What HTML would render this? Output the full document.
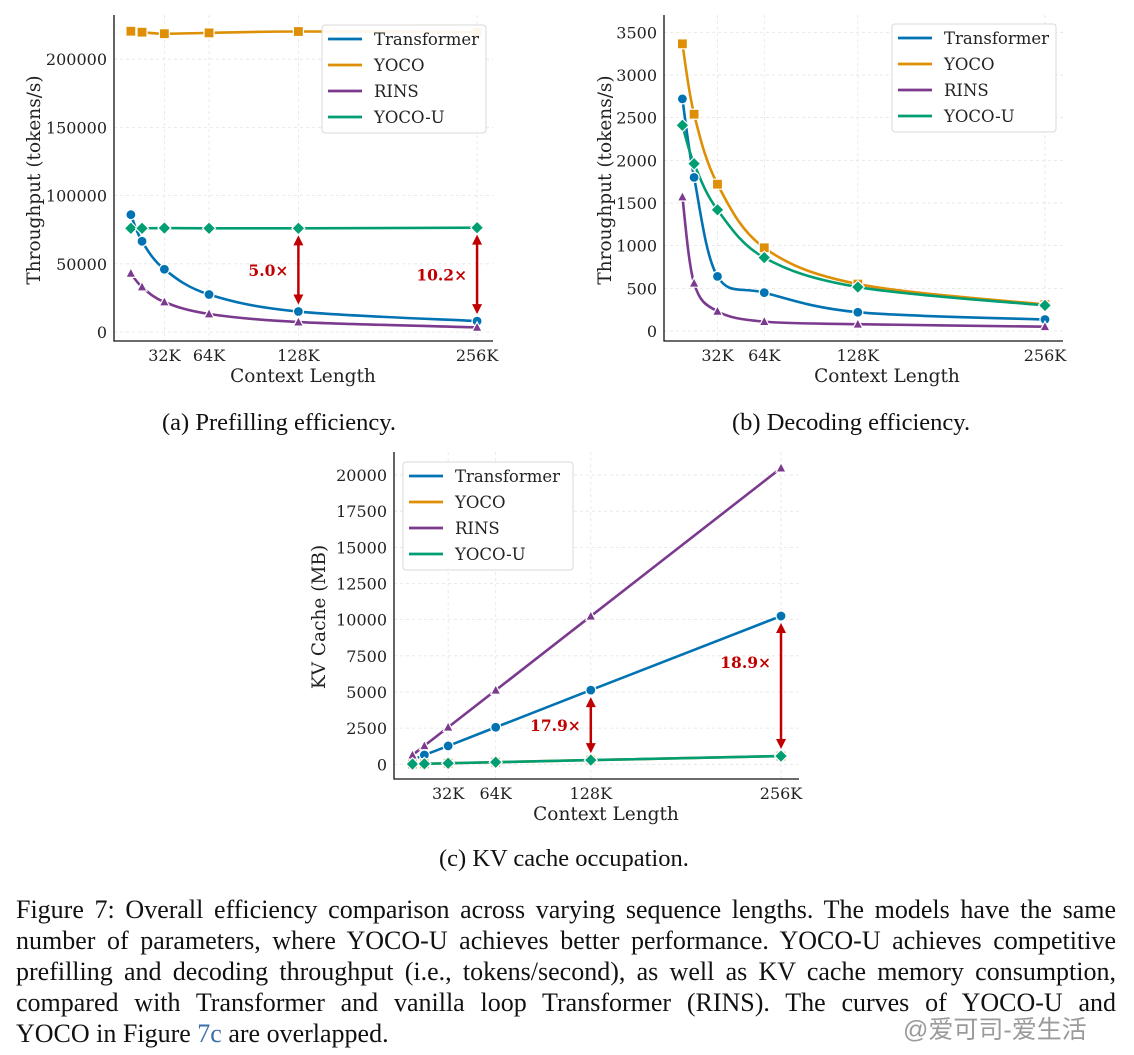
<!DOCTYPE html>
<html><head><meta charset="utf-8">
<style>
body{margin:0;background:#fff;width:1134px;height:1055px;overflow:hidden;position:relative;font-family:"Liberation Serif",serif;}
svg{position:absolute;left:0;top:0;}
.cap{position:absolute;font-family:"Liberation Serif",serif;font-size:24.5px;color:#111;white-space:nowrap;}
.fig{position:absolute;left:16px;top:894px;width:1100px;font-family:"Liberation Serif",serif;font-size:26px;line-height:31px;color:#111;}
.fig div{text-align:justify;text-align-last:justify;white-space:nowrap;}
.fig div.last{text-align-last:left;}
.wm{position:absolute;left:903px;top:1010px;font-family:"Liberation Sans","Noto Sans CJK SC",sans-serif;font-size:25px;color:#9a9a9a;}
</style></head><body>
<svg id="svg" width="1134" height="1055"></svg>
<div class="cap" style="left:162px;top:409px">(a) Prefilling efficiency.</div>
<div class="cap" style="left:732px;top:409px">(b) Decoding efficiency.</div>
<div class="cap" style="left:439px;top:845px">(c) KV cache occupation.</div>
<div class="fig">
<div>Figure 7: Overall efficiency comparison across varying sequence lengths. The models have the same</div>
<div>number of parameters, where YOCO-U achieves better performance. YOCO-U achieves competitive</div>
<div>prefilling and decoding throughput (i.e., tokens/second), as well as KV cache memory consumption,</div>
<div>compared with Transformer and vanilla loop Transformer (RINS). The curves of YOCO-U and</div>
<div class="last">YOCO in Figure <span style="color:#3a6ea8">7c</span> are overlapped.</div>
</div>
<div class="wm">@爱可司-爱生活</div>
<script>
const contexts = [8, 16, 32, 64, 128, 256];
const xTickVals = [32, 64, 128, 256];
const xTickLabels = ["32K", "64K", "128K", "256K"];
const seriesNames = ["Transformer", "YOCO", "RINS", "YOCO-U"];
// (a) prefilling
const preTransformer = [86000, 66500, 46000, 27500, 15000, 8000];
const preYOCO = [220500, 219800, 218700, 219300, 220300, 219800];
const preRINS = [43000, 33000, 22000, 13200, 7300, 3400];
const preYOCOU = [76000, 76000, 76200, 76000, 76000, 76500];
const preYTicks = [0, 50000, 100000, 150000, 200000];
const preRatios = ["5.0×", "10.2×"];
// (b) decoding
const decTransformer = [2720, 1800, 640, 450, 220, 135];
const decYOCO = [3365, 2540, 1720, 975, 550, 310];
const decRINS = [1570, 560, 230, 110, 80, 50];
const decYOCOU = [2410, 1960, 1420, 860, 515, 300];
const decYTicks = [0, 500, 1000, 1500, 2000, 2500, 3000, 3500];
// (c) kv cache
const kvTransformer = [320, 640, 1270, 2560, 5130, 10250];
const kvYOCO = [18, 36, 72, 144, 290, 570];
const kvRINS = [640, 1280, 2560, 5120, 10240, 20480];
const kvYOCOU = [18, 36, 72, 144, 290, 570];
const kvYTicks = [0, 2500, 5000, 7500, 10000, 12500, 15000, 17500, 20000];
const kvRatios = ["17.9×", "18.9×"];

const colors = ["#0173b2", "#de8f05", "#7b3a8e", "#029e73"];
const markers = ["circle", "square", "triangle", "diamond"];
const NS = "http://www.w3.org/2000/svg";
const svg = document.getElementById("svg");
function mk(tag, attrs, parent) {
  const e = document.createElementNS(NS, tag);
  for (const k in attrs) e.setAttribute(k, attrs[k]);
  (parent || svg).appendChild(e);
  return e;
}
function catmull(pts) {
  let d = "M" + pts[0][0] + "," + pts[0][1];
  for (let i = 0; i < pts.length - 1; i++) {
    const p0 = pts[i - 1] || pts[i], p1 = pts[i], p2 = pts[i + 1], p3 = pts[i + 2] || p2;
    const c1 = [p1[0] + (p2[0] - p0[0]) / 6, p1[1] + (p2[1] - p0[1]) / 6];
    const c2 = [p2[0] - (p3[0] - p1[0]) / 6, p2[1] - (p3[1] - p1[1]) / 6];
    d += " C" + c1 + " " + c2 + " " + p2;
  }
  return d;
}
function marker(g, type, x, y, color) {
  const a = {fill: color, stroke: "#fff", "stroke-width": 1.2};
  let m;
  if (type === "circle") m = mk("circle", Object.assign({cx: x, cy: y, r: 5}, a), g);
  else if (type === "square") m = mk("rect", Object.assign({x: x - 5, y: y - 5, width: 10, height: 10}, a), g);
  else if (type === "triangle") m = mk("polygon", Object.assign({points: `${x},${y-5.5} ${x+5},${y+4} ${x-5},${y+4}`}, a), g);
  else m = mk("polygon", Object.assign({points: `${x},${y-6.5} ${x+6.5},${y} ${x},${y+6.5} ${x-6.5},${y}`}, a), g);
  return m;
}
function chart(cfg) {
  const g = mk("g", {});
  
  
  const sx = v => cfg.x0 + v * cfg.kx;
  const sy = v => cfg.y0 - v * cfg.ky;
  cfg.yTicks.forEach(t => {
    const l = mk("line", {x1: cfg.left, x2: cfg.right, y1: sy(t), y2: sy(t), stroke: "#e4e4e4", "stroke-dasharray": "3,3", "stroke-width": 0.8}, g);
    
    
    const tx = mk("text", {x: cfg.left - 7, y: sy(t) + 6, "text-anchor": "end", "font-family": "DejaVu Serif, serif", "font-size": 16, fill: "#222"}, g);
    tx.textContent = t;
    
    
  });
  xTickVals.forEach((t, i) => {
    const l = mk("line", {x1: sx(t), x2: sx(t), y1: cfg.top, y2: cfg.bottom, stroke: "#e4e4e4", "stroke-dasharray": "3,3", "stroke-width": 0.8}, g);
    
    
    const tx = mk("text", {x: sx(t), y: cfg.bottom + 20, "text-anchor": "middle", "font-family": "DejaVu Serif, serif", "font-size": 16, fill: "#222"}, g);
    tx.textContent = xTickLabels[i];
    
    
  });
  const ax = mk("path", {d: `M${cfg.left},${cfg.top} V${cfg.bottom} H${cfg.right}`, fill: "none", stroke: "#111", "stroke-width": 1.3}, g);
  
  
  cfg.series.forEach((vals, si) => {
    const pts = contexts.map((c, i) => [sx(c), sy(vals[i])]);
    const d = cfg.mode === "linear" ? "M" + pts.join(" L") : catmull(pts);
    const p = mk("path", {d: d, fill: "none", stroke: colors[si], "stroke-width": 2.6}, g);
    
    
  });
  cfg.series.forEach((vals, si) => {
    contexts.forEach((c, i) => {
      const m = marker(g, markers[si], sx(c), sy(vals[i]), colors[si]);
      
      
    });
  });
  if (cfg.arrows) {
    cfg.arrows.forEach((a) => {
      const x = sx(contexts[a.idx]);
      const y1 = sy(a.from[a.idx]), y2 = sy(a.to[a.idx]);
      const top = Math.min(y1, y2) + 7, bot = Math.max(y1, y2) - 7;
      const ag = mk("g", {}, g);
      
      
      mk("line", {x1: x, x2: x, y1: top + 6, y2: bot - 6, stroke: "#c00000", "stroke-width": 2.5}, ag);
      mk("polygon", {points: `${x},${top} ${x-5},${top+10} ${x+5},${top+10}`, fill: "#c00000"}, ag);
      mk("polygon", {points: `${x},${bot} ${x-5},${bot-10} ${x+5},${bot-10}`, fill: "#c00000"}, ag);
      const t = mk("text", {x: x - 10, y: (top + bot) / 2 + a.dy, "text-anchor": "end", "font-family": "DejaVu Serif, serif", "font-weight": "bold", "font-size": 15.5, fill: "#c00000"}, g);
      t.textContent = a.label;
      
      
    });
  }
  const L = cfg.legend;
  const lg = mk("g", {}, g);
  
  
  mk("rect", {x: L.x, y: L.y, width: L.w, height: 108, rx: 3, fill: "#fff", "fill-opacity": 0.92, stroke: "#d8d8d8"}, lg);
  seriesNames.forEach((n, i) => {
    const yy = L.y + 14 + i * 26;
    const l = mk("line", {x1: L.x + 6, x2: L.x + 40, y1: yy, y2: yy, stroke: colors[i], "stroke-width": 2.8}, lg);
    
    
    const t = mk("text", {x: L.x + 52, y: yy + 6, "font-family": "DejaVu Serif, serif", "font-size": 16.5, fill: "#222"}, lg);
    t.textContent = n;
    
    
  });
  const xl = mk("text", {x: cfg.xlab[0], y: cfg.xlab[1], "text-anchor": "middle", "font-family": "DejaVu Serif, serif", "font-size": 18.5, fill: "#222"}, g);
  xl.textContent = "Context Length";
  
  
  const yl = mk("text", {x: 0, y: 0, transform: `translate(${cfg.ylab[0]},${cfg.ylab[1]}) rotate(-90)`, "text-anchor": "middle", "font-family": "DejaVu Serif, serif", "font-size": 18.5, fill: "#222"}, g);
  yl.textContent = cfg.ytitle;
  
  
}
chart({name: "chart-prefilling", x0: 119.7, kx: 1.396, y0: 332, ky: 68.2 / 50000,
  left: 114, right: 493, top: 15, bottom: 341, yTicks: preYTicks, mode: "spline",
  series: [preTransformer, preYOCO, preRINS, preYOCOU],
  arrows: [{idx: 4, from: preYOCOU, to: preTransformer, label: preRatios[0], dy: 6}, {idx: 5, from: preYOCOU, to: preTransformer, label: preRatios[1], dy: 6}],
  legend: {x: 322, y: 25, w: 164}, xlab: [303, 382], ylab: [40, 180], ytitle: "Throughput (tokens/s)"});
chart({name: "chart-decoding", x0: 670.7, kx: 1.462, y0: 331, ky: 42.67 / 500,
  left: 664, right: 1063, top: 15, bottom: 341, yTicks: decYTicks, mode: "spline",
  series: [decTransformer, decYOCO, decRINS, decYOCOU],
  legend: {x: 892, y: 24, w: 164}, xlab: [887, 382], ylab: [611, 180], ytitle: "Throughput (tokens/s)"});
chart({name: "chart-kv-cache", x0: 400.6, kx: 1.486, y0: 764.3, ky: 36.16 / 2500,
  left: 394, right: 799, top: 452, bottom: 779, yTicks: kvYTicks, mode: "linear",
  series: [kvTransformer, kvYOCO, kvRINS, kvYOCOU],
  arrows: [{idx: 4, from: kvYOCOU, to: kvTransformer, label: kvRatios[0], dy: 6}, {idx: 5, from: kvYOCOU, to: kvTransformer, label: kvRatios[1], dy: -18}],
  legend: {x: 403, y: 462, w: 170}, xlab: [606, 820], ylab: [325, 617], ytitle: "KV Cache (MB)"});
</script>
</body></html>
